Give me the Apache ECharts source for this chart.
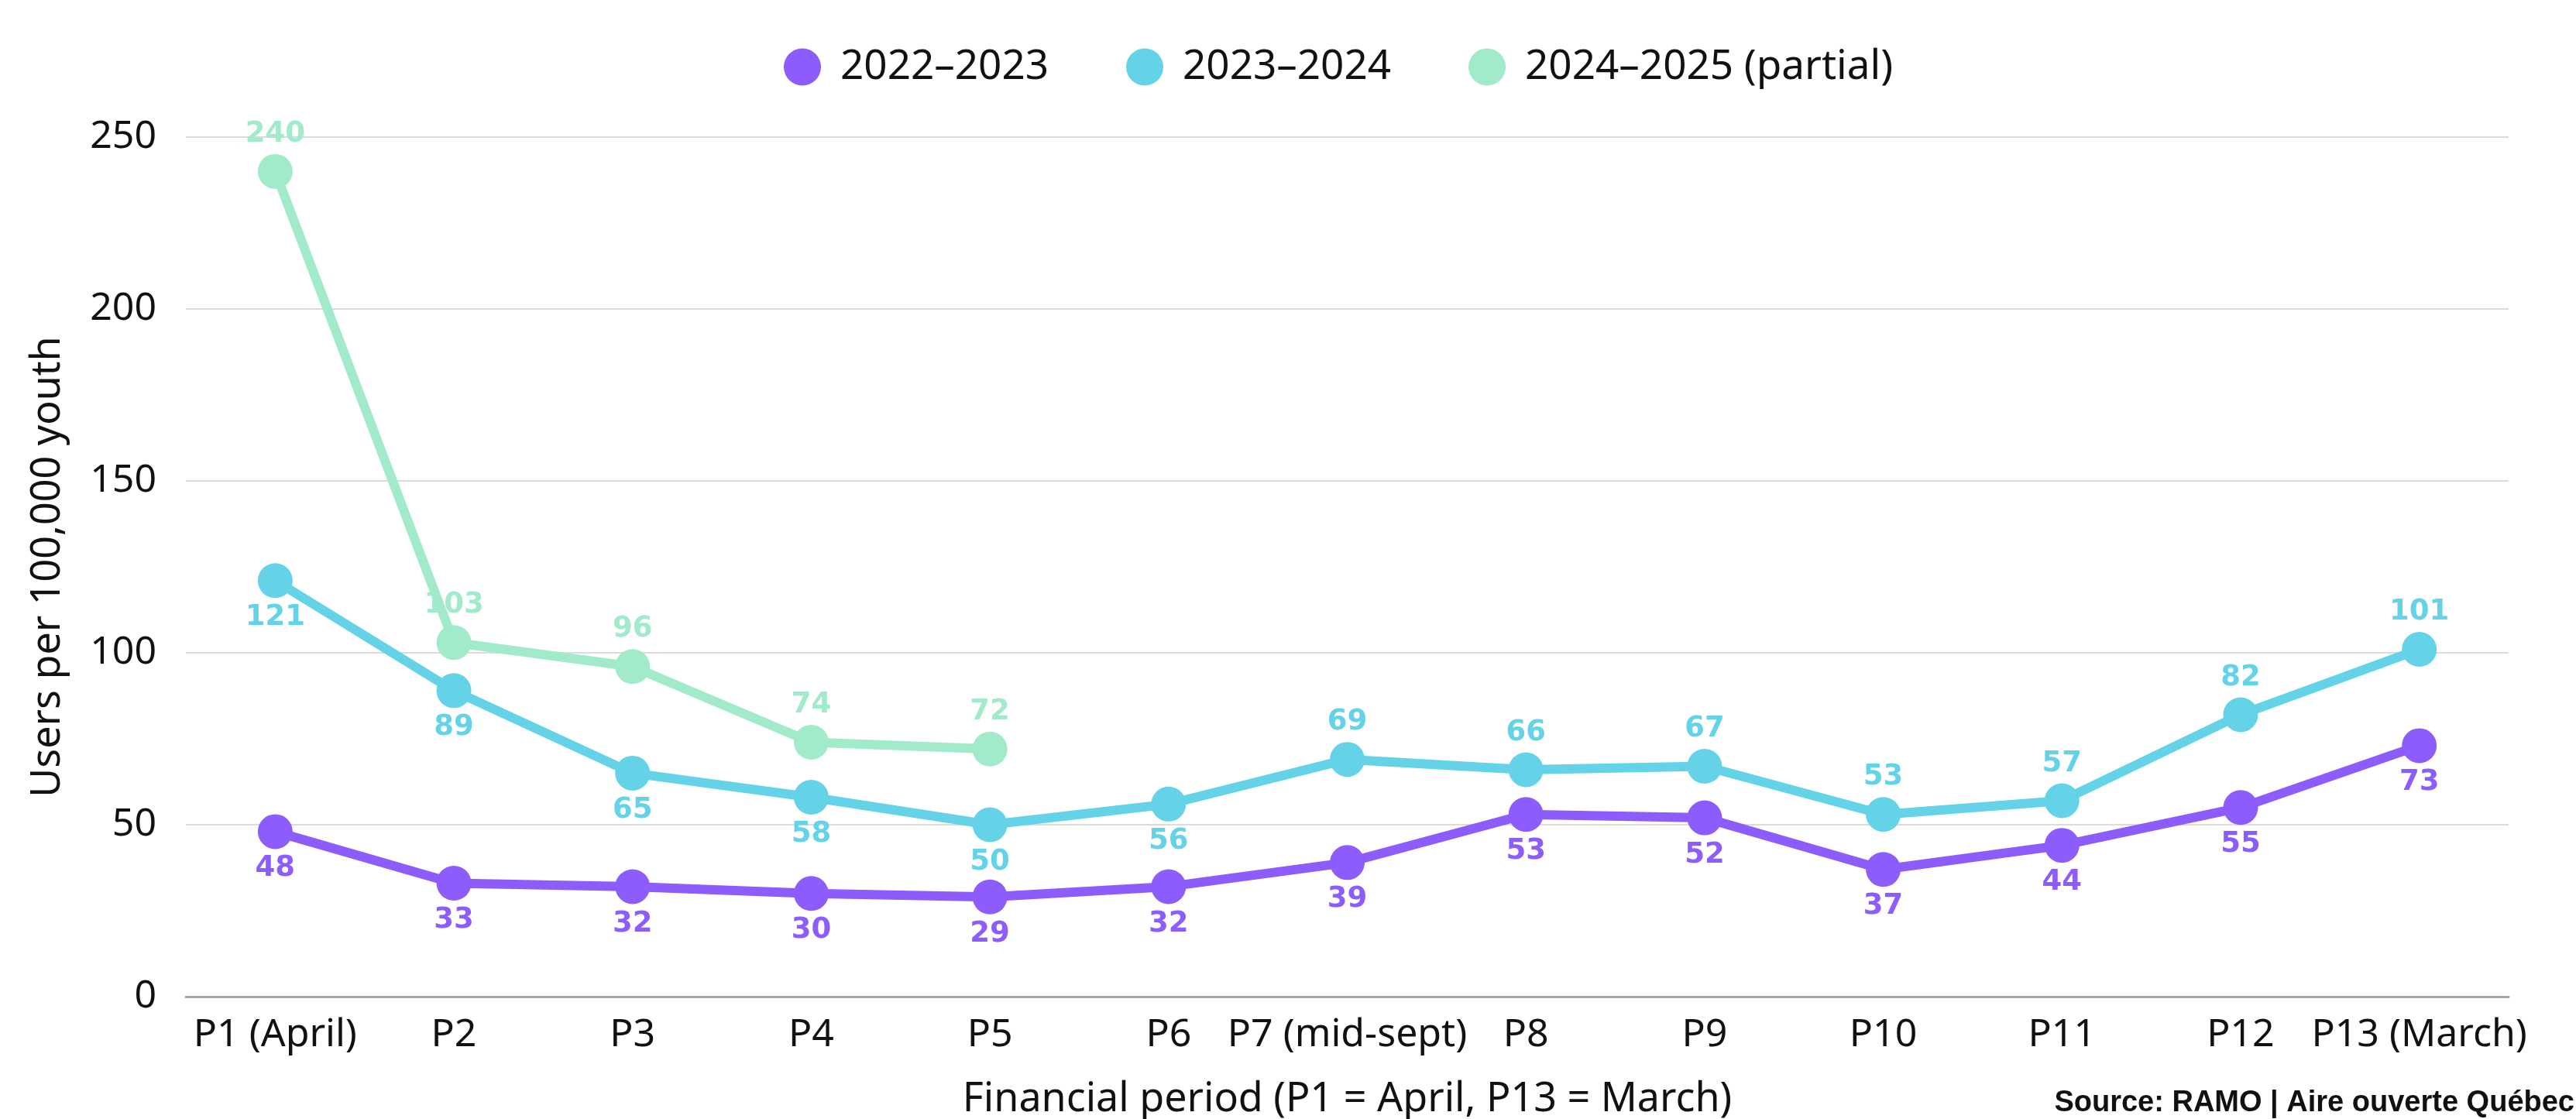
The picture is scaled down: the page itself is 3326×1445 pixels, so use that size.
<!DOCTYPE html>
<html>
<head>
<meta charset="utf-8">
<script src="https://cdn.jsdelivr.net/npm/echarts@6/dist/echarts.min.js"></script>
<style>
html,body{margin:0;padding:0;background:#fff;}
#chart{width:3326px;height:1445px;}
</style>
</head>
<body>
<div id="chart"></div>
<script>
const categories = ['P1 (April)','P2','P3','P4','P5','P6','P7 (mid-sept)','P8','P9','P10','P11','P12','P13 (March)'];
const seriesNames = ['2022–2023','2023–2024','2024–2025 (partial)'];
const values2022 = [48,33,32,30,29,32,39,53,52,37,44,55,73];
const values2023 = [121,89,65,58,50,56,69,66,67,53,57,82,101];
const values2024 = [240,103,96,74,72,null,null,null,null,null,null,null,null];
const yTicks = [0,50,100,150,200,250];

const colors = ['#8C5CFC','#64D3E8','#A1EBCA'];
const font = '"Noto Sans", sans-serif';
const labelFont = '"DejaVu Sans", sans-serif';

const chart = echarts.init(document.getElementById('chart'));

function mkSeries(name, vals, color, posFn){
  return {
    name: name,
    type: 'line',
    data: vals.map((v,i)=> v==null ? '-' : {value:v, label:{position: posFn(i)}}),
    symbol: 'circle',
    symbolSize: 45,
    lineStyle: {width: 12, color: color},
    itemStyle: {color: color},
    connectNulls: false,
    animation: false,
    label: {
      show: true,
      color: color,
      fontFamily: labelFont,
      fontWeight: 'bold',
      fontSize: 37,
      distance: 7
    }
  };
}

chart.setOption({
  backgroundColor: '#fff',
  animation: false,
  color: colors,
  legend: {
    top: 55,
    left: 1007,
    icon: 'circle',
    itemWidth: 48,
    itemHeight: 48,
    itemGap: 100,
    textStyle: {fontFamily: font, fontSize: 53, color: '#111', padding:[0,0,0,20]},
    data: seriesNames
  },
  grid: {left: 240, right: 87, top: 177, bottom: 158, containLabel: false, outerBoundsMode: 'none'},
  xAxis: {
    type: 'category',
    data: categories,
    boundaryGap: true,
    axisLine: {lineStyle: {color: '#a6a6a6', width: 3}},
    axisTick: {show: false},
    axisLabel: {fontFamily: font, fontSize: 50, color: '#111', margin: 25, interval: 0},
    name: 'Financial period (P1 = April, P13 = March)',
    nameLocation: 'middle',
    nameGap: 107,
    nameTextStyle: {fontFamily: font, fontSize: 52, color: '#111'}
  },
  yAxis: {
    type: 'value',
    min: yTicks[0],
    max: yTicks[yTicks.length-1],
    interval: yTicks[1]-yTicks[0],
    axisLine: {show: false},
    axisTick: {show: false},
    splitLine: {lineStyle: {color: '#dcdcdc', width: 2}},
    axisLabel: {fontFamily: font, fontSize: 50, color: '#111', margin: 38},
    name: 'Users per 100,000 youth',
    nameLocation: 'middle',
    nameGap: 152,
    nameTextStyle: {fontFamily: font, fontSize: 52, color: '#111'}
  },
  graphic: [{
    type: 'text',
    right: 2,
    top: 1406,
    style: {
      text: 'Source: RAMO | Aire ouverte Québec',
      font: 'bold 38px "Liberation Sans", Arial, sans-serif',
      fill: '#111'
    }
  }],
  series: [
    mkSeries(seriesNames[0], values2022, colors[0], ()=> 'bottom'),
    mkSeries(seriesNames[1], values2023, colors[1], i=> i < 6 ? 'bottom' : 'top'),
    mkSeries(seriesNames[2], values2024, colors[2], ()=> 'top')
  ]
});
</script>
</body>
</html>
